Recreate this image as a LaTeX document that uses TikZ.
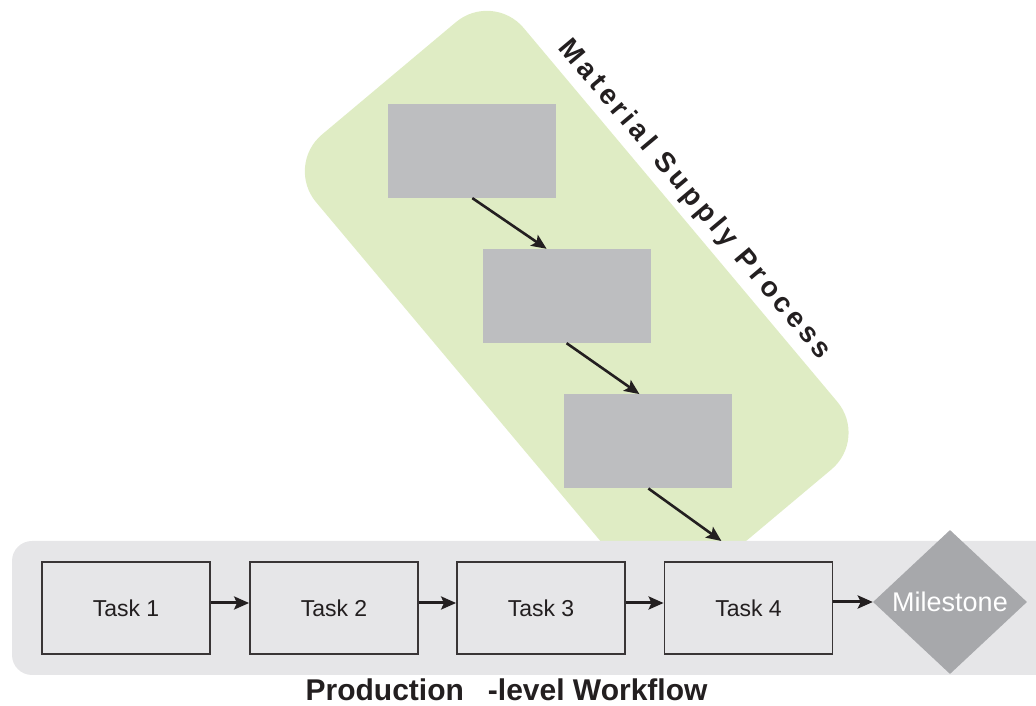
\documentclass[tikz,border=0pt]{standalone}
\usepackage{fontspec}
\setmainfont{Liberation Sans}
\usetikzlibrary{shapes.geometric,arrows.meta,calc}
\definecolor{greenbg}{HTML}{DFECC4}
\definecolor{bandbg}{HTML}{E6E6E8}
\definecolor{boxgray}{HTML}{BDBEC0}
\definecolor{diagray}{HTML}{A7A8AB}
\definecolor{ink}{HTML}{231F20}
\begin{document}
\begin{tikzpicture}[x=1pt,y=1pt,
  greenarea/.style={draw=none,fill=greenbg,rectangle,rounded corners=48pt,minimum width=584pt,minimum height=271pt,rotate=-50},
  supbox/.style={draw=none,fill=boxgray,rectangle,minimum width=168pt,minimum height=94pt,inner sep=0pt},
  bandbox/.style={draw=none,fill=bandbg,rectangle,rounded corners=20pt,minimum width=1058pt,minimum height=134pt},
  taskbox/.style={draw=ink!90,line width=1.8pt,fill=bandbg,rectangle,minimum width=168pt,minimum height=92pt,inner sep=0pt,font=\fontsize{23}{27}\selectfont,text=ink},
  mstone/.style={diamond,fill=diagray,draw=none,minimum width=154pt,minimum height=144pt,inner sep=0pt,font=\fontsize{27}{30}\selectfont,text=white},
  diagarrow/.style={draw=ink,line width=2.6pt,-{Stealth[length=15pt,width=13pt,inset=3pt]}},
  taskarrow/.style={draw=ink,line width=3pt,-{Stealth[length=15pt,width=13pt,inset=3pt]}}
]
\useasboundingbox (0,0) rectangle (1036,706);
% green area
\node[greenarea] (green) at (576.7,404) {};
\node[rotate=-50,text=ink,inner sep=0pt,font=\fontsize{28}{32}\selectfont\bfseries\addfontfeatures{LetterSpace=15}] (mlabel) at (694.5,506) {Material Supply Process};
% supply boxes
\node[supbox] (sa) at (472.3,555.1) {};
\node[supbox] (sb) at (566.6,410) {};
\node[supbox] (sc) at (648.4,264.7) {};
% band
\node[bandbox] (band) at (541,98) {};
\coordinate (mt) at (721.4,165);
\draw[diagarrow] (sa.south) -- ([xshift=-20pt]sb.north);
\draw[diagarrow] (sb.south) -- ([xshift=-9pt]sc.north);
\draw[diagarrow] (sc.south) -- (mt);
% tasks
\node[taskbox] (t1) at (126,98) {Task 1};
\node[taskbox] (t2) at (334,98) {Task 2};
\node[taskbox] (t3) at (541,98) {Task 3};
\node[taskbox] (t4) at (748.5,98) {Task 4};
\node[mstone] (ms) at (950,104) {Milestone};
\draw[taskarrow] ([yshift=5pt]t1.east) -- ([yshift=5pt]t2.west);
\draw[taskarrow] ([yshift=5pt]t2.east) -- ([yshift=5pt]t3.west);
\draw[taskarrow] ([yshift=5pt]t3.east) -- ([yshift=5pt]t4.west);
\draw[taskarrow] ([yshift=6pt]t4.east) -- (ms.west);
% bottom label
\node[text=ink,font=\fontsize{30}{33}\selectfont\bfseries,inner sep=0pt,anchor=base] (plabel) at (506.5,5) {Production\hspace{0.8em}-level Workflow};
\end{tikzpicture}
\end{document}
